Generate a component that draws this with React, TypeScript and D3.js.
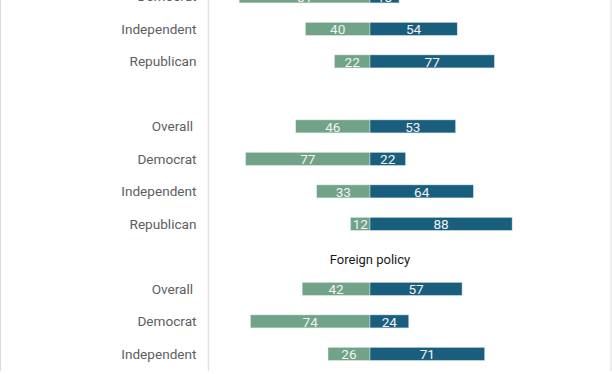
import React from "react";
import * as d3 from "d3";

const groupTitles = ["", "", "Foreign policy"];
const rowGroups = [0, 0, 0, 1, 1, 1, 1, 2, 2, 2];
const rowLabels = [
  "Democrat", "Independent", "Republican",
  "Overall ", "Democrat", "Independent", "Republican",
  "Overall ", "Democrat", "Independent",
];
const greenValues = [81, 40, 22, 46, 77, 33, 12, 42, 74, 26];
const blueValues = [18, 54, 77, 53, 22, 64, 88, 57, 24, 71];

const W = 612;
const H = 374;
const GREEN = "#70a387";
const BLUE = "#1a5e7e";

export default function App() {
  const slots: { type: "title" | "row"; idx: number }[] = [];
  let prev = -1;
  rowGroups.forEach((g, i) => {
    if (g !== prev) {
      if (i > 0) slots.push({ type: "title", idx: g });
      prev = g;
    }
    slots.push({ type: "row", idx: i });
  });

  const y = d3.scaleLinear().domain([0, 1]).range([-3.6, -3.6 + 32.5]);
  const x = d3.scaleLinear().domain([-100, 100]).range([208.5, 531.5]);
  const barH = 13;
  const font = "Roboto, 'Noto Sans', sans-serif";

  return (
    <svg
      width={W}
      height={H}
      style={{ position: "absolute", left: 0, top: 0, background: "#fff" }}
    >
      <line x1={0.5} x2={0.5} y1={0} y2={371} stroke="#dcdcdc" strokeWidth={1} />
      <line x1={611} x2={611} y1={0} y2={371} stroke="#dcdcdc" strokeWidth={1} />
      <line x1={x(-100)} x2={x(-100)} y1={0} y2={371} stroke="#e4e4e4" strokeWidth={1.5} />
      {slots.map((s, k) => {
        const cy = y(k);
        if (s.type === "title") {
          return (
            <text
              key={k}
              x={x(0)}
              y={cy + 3}
              textAnchor="middle"
              dominantBaseline="central"
              fontFamily={font}
              fontSize={13}
              fill="#1a1a1a"
            >
              {groupTitles[s.idx]}
            </text>
          );
        }
        const i = s.idx;
        const g = greenValues[i];
        const b = blueValues[i];
        return (
          <g key={k}>
            <text
              x={196.5}
              y={cy}
              textAnchor="end"
              dominantBaseline="central"
              fontFamily={font}
              fontSize={13.6}
              fill="#5e5e5e"
              style={{ whiteSpace: "pre" }}
            >
              {rowLabels[i]}
            </text>
            <rect
              x={x(-g)}
              y={cy - barH / 2}
              width={x(0) - x(-g)}
              height={barH}
              fill={GREEN}
              stroke="#dfe8e4"
              strokeWidth={0.5}
            />
            <rect
              x={x(0)}
              y={cy - barH / 2}
              width={x(b) - x(0)}
              height={barH}
              fill={BLUE}
              stroke="#cfdde4"
              strokeWidth={0.5}
            />
            <text
              x={(x(-g) + x(0)) / 2}
              y={cy + 0.5}
              textAnchor="middle"
              dominantBaseline="central"
              fontFamily={font}
              fontSize={13.6}
              fill="#f2f2f2"
            >
              {g}
            </text>
            <text
              x={(x(0) + x(b)) / 2}
              y={cy + 0.5}
              textAnchor="middle"
              dominantBaseline="central"
              fontFamily={font}
              fontSize={13.6}
              fill="#f2f2f2"
            >
              {b}
            </text>
          </g>
        );
      })}
    </svg>
  );
}
